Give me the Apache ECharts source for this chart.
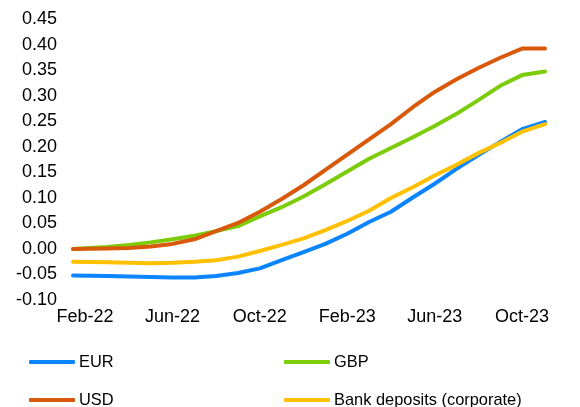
<!DOCTYPE html>
<html>
<head>
<meta charset="utf-8">
<script src="https://cdn.jsdelivr.net/npm/echarts@6/dist/echarts.min.js"></script>
<style>
  html, body { margin: 0; padding: 0; background: #fff; }
  #main { width: 580px; height: 407px; }
</style>
</head>
<body>
<div id="main"></div>
<script>
var myChart = echarts.init(document.getElementById('main'));

// month offsets from Feb-22
var months = [-0.55, 1, 2, 3, 4, 5, 6, 7, 8, 9, 10, 11, 12, 13, 14, 15, 16, 17, 18, 19, 20, 21.05];
var tickMonths = [0, 4, 8, 12, 16, 20];
var tickLabels = ['Feb-22', 'Jun-22', 'Oct-22', 'Feb-23', 'Jun-23', 'Oct-23'];

var eur = [-0.052, -0.053, -0.054, -0.055, -0.056, -0.056, -0.053, -0.047, -0.038, -0.022, -0.006,
  0.010, 0.030, 0.053, 0.073, 0.101, 0.128, 0.157, 0.184, 0.210, 0.235, 0.249];
var gbp = [0.000, 0.004, 0.008, 0.013, 0.019, 0.026, 0.035, 0.045, 0.064, 0.082, 0.103,
  0.127, 0.152, 0.177, 0.198, 0.219, 0.241, 0.265, 0.292, 0.320, 0.341, 0.348];
var usd = [0.000, 0.001, 0.002, 0.005, 0.010, 0.019, 0.035, 0.051, 0.073, 0.098, 0.125,
  0.155, 0.185, 0.215, 0.245, 0.278, 0.308, 0.333, 0.355, 0.375, 0.393, 0.393];
var deposits = [-0.025, -0.026, -0.027, -0.028, -0.027, -0.025, -0.022, -0.015, -0.004, 0.008, 0.021,
  0.037, 0.055, 0.075, 0.100, 0.121, 0.144, 0.165, 0.188, 0.208, 0.230, 0.245];

var colors = { EUR: '#0A84FF', GBP: '#7DCC0A', USD: '#D8590A', 'Bank deposits (corporate)': '#FFC000' };

function pairs(vals) {
  return vals.map(function (v, i) { return [months[i], v]; });
}

function line(name, vals) {
  return {
    name: name,
    type: 'line',
    data: pairs(vals),
    showSymbol: false,
    symbol: 'none',
    smooth: false,
    color: colors[name],
    lineStyle: { width: 4, color: colors[name], cap: 'round', join: 'round' }
  };
}

function legendItem(name, left, top) {
  return {
    data: [name],
    left: left, top: top,
    padding: 0,
    itemWidth: 46, itemHeight: 4,
    icon: 'roundRect',
    textStyle: { fontFamily: 'Liberation Sans', fontSize: 16.4, color: '#000', padding: [0, 0, 0, -1] }
  };
}

option = {
  animation: false,
  grid: { left: 73, right: 35, top: 19.5, bottom: 107 },
  legend: [
    legendItem('EUR', 29, 354),
    legendItem('USD', 29, 392),
    legendItem('GBP', 284, 354),
    legendItem('Bank deposits (corporate)', 284, 392)
  ],
  xAxis: {
    type: 'value',
    min: -0.55,
    max: 21.05,
    axisLine: { show: false },
    axisTick: { show: false },
    splitLine: { show: false },
    axisLabel: {
      customValues: tickMonths,
      margin: 8,
      fontFamily: 'Liberation Sans',
      fontSize: 18,
      color: '#000',
      formatter: function (v) {
        var i = tickMonths.indexOf(v);
        return i >= 0 ? tickLabels[i] : '';
      }
    }
  },
  yAxis: {
    type: 'value',
    min: -0.1,
    max: 0.45,
    interval: 0.05,
    axisLine: { show: false },
    axisTick: { show: false },
    splitLine: { show: false },
    axisLabel: {
      margin: 16,
      fontFamily: 'Liberation Sans',
      fontSize: 18,
      color: '#000',
      formatter: function (v) { return v.toFixed(2); }
    }
  },
  series: [
    line('EUR', eur),
    line('GBP', gbp),
    line('USD', usd),
    line('Bank deposits (corporate)', deposits)
  ]
};

myChart.setOption(option);
</script>
</body>
</html>
